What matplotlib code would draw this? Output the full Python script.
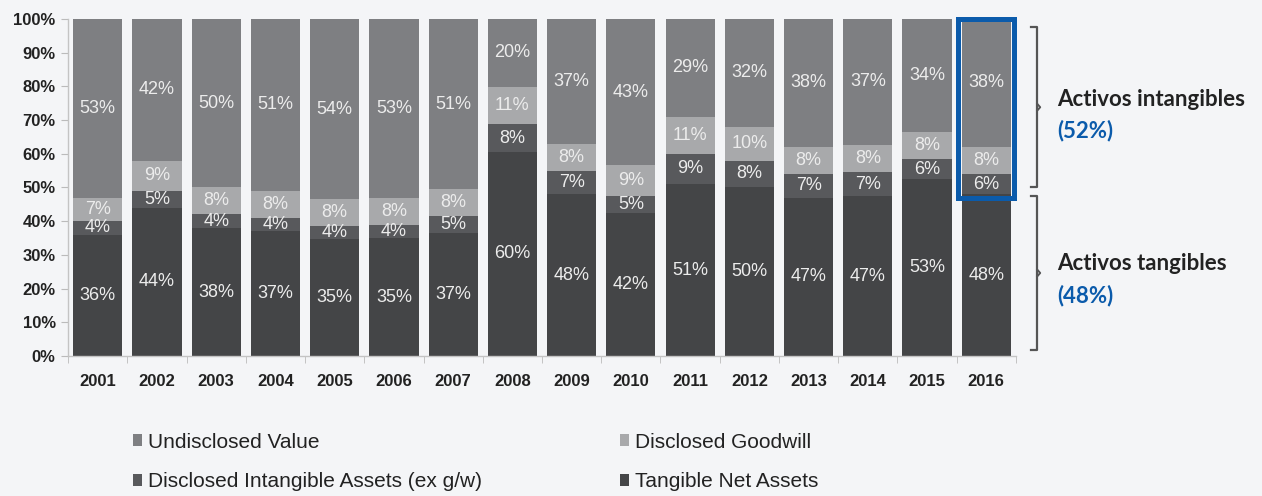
import numpy as np
import matplotlib.pyplot as plt
from matplotlib.patches import Patch, Rectangle

# DATA
years = ['2001', '2002', '2003', '2004', '2005', '2006', '2007', '2008',
         '2009', '2010', '2011', '2012', '2013', '2014', '2015', '2016']
tangible = [36, 44, 38, 37, 35, 35, 37, 60, 48, 42, 51, 50, 47, 47, 53, 48]
intangible = [4, 5, 4, 4, 4, 4, 5, 8, 7, 5, 9, 8, 7, 7, 6, 6]
goodwill = [7, 9, 8, 8, 8, 8, 8, 11, 8, 9, 11, 10, 8, 8, 8, 8]
undisclosed = [53, 42, 50, 51, 54, 53, 51, 20, 37, 43, 29, 32, 38, 37, 34, 38]

series = [
    ('Tangible Net Assets', tangible, '#444547'),
    ('Disclosed Intangible Assets (ex g/w)', intangible, '#58595c'),
    ('Disclosed Goodwill', goodwill, '#a8a9ab'),
    ('Undisclosed Value', undisclosed, '#7e7f82'),
]

bg = '#f4f5f7'
blue = '#0b5bab'

plt.rcParams['font.family'] = ['Liberation Sans', 'DejaVu Sans']

fig = plt.figure(figsize=(12.62, 4.96), dpi=100, facecolor=bg)
ax = fig.add_axes([0.054, 0.282, 0.751, 0.68])
ax.set_facecolor(bg)

x = np.arange(len(years))
totals = np.sum([s[1] for s in series], axis=0)
bottom = np.zeros(len(years))
for name, vals, color in series:
    h = np.array(vals) / totals * 100
    ax.bar(x, h, bottom=bottom, width=0.83, color=color, edgecolor='none')
    for xi, b, hi, v in zip(x, bottom, h, vals):
        ax.text(xi, b + hi / 2, f'{v}%', ha='center', va='center',
                color='#ececec', fontsize=13)
    bottom += h

ax.set_xlim(-0.5, len(years) - 0.5)
ax.set_ylim(0, 100)
ax.set_yticks(np.arange(0, 101, 10))
ax.set_yticklabels([f'{v}%' for v in range(0, 101, 10)], fontsize=12,
                   fontweight='bold', color='#222222')
ax.set_xticks(x)
ax.set_xticklabels(years, fontsize=12, fontweight='bold', color='#222222')
ax.set_xticks(np.arange(-0.5, len(years)), minor=True)
ax.tick_params(axis='x', which='major', length=0, pad=13)
ax.tick_params(axis='x', which='minor', length=5, color='#bbbbbb')
ax.tick_params(axis='y', length=5, color='#bbbbbb', pad=4)
for s in ['top', 'right']:
    ax.spines[s].set_visible(False)
for s in ['left', 'bottom']:
    ax.spines[s].set_color('#c4c4c4')
    ax.spines[s].set_linewidth(1)

# highlight box around the 2016 intangible share
last = len(years) - 1
tang_last = tangible[last] / totals[last] * 100
ax.add_patch(Rectangle((last - 0.47, tang_last - 1), 0.94, 100 - tang_last + 1,
                       fill=False, edgecolor=blue, linewidth=3.6, clip_on=False,
                       zorder=5))

# brackets on the right
bx = last + 0.86
def bracket(y0, y1):
    ax.plot([bx - 0.1, bx, bx, bx - 0.1], [y1, y1, y0, y0], color='#555555',
            lw=1.6, clip_on=False, solid_joinstyle='round')
    ym = (y0 + y1) / 2
    ax.plot([bx, bx + 0.05, bx], [ym + 1, ym, ym - 1], color='#555555',
            lw=1.4, clip_on=False)

bracket(tang_last + 2, 97.6)
bracket(1.8, tang_last - 0.5)

intang_share = 100 - tangible[last]
tx = last + 1.2
lab_font = ['Lato', 'DejaVu Sans']
ax.text(tx, 76, 'Activos intangibles', fontsize=16, fontweight='bold',
        color='#222222', family=lab_font, va='center')
ax.text(tx, 67, f'({intang_share}%)', fontsize=16, fontweight='bold',
        color=blue, family=lab_font, va='center')
ax.text(tx, 27.5, 'Activos tangibles', fontsize=16, fontweight='bold',
        color='#222222', family=lab_font, va='center')
ax.text(tx, 18, f'({tangible[last]}%)', fontsize=16, fontweight='bold',
        color=blue, family=lab_font, va='center')

# legend
lookup = {name: color for name, vals, color in series}
order = ['Undisclosed Value', 'Disclosed Intangible Assets (ex g/w)',
         'Disclosed Goodwill', 'Tangible Net Assets']
handles = [Patch(facecolor=lookup[n], label=n) for n in order]
leg = fig.legend(handles=handles, loc='upper left',
                 bbox_to_anchor=(0.105, 0.128), ncol=2, frameon=False,
                 fontsize=15, handlelength=0.45, handleheight=0.45,
                 handletextpad=0.3, columnspacing=6.6, labelspacing=1.0,
                 borderpad=0, borderaxespad=0)
for t in leg.get_texts():
    t.set_color('#222222')

fig.savefig('out.png', dpi=100, facecolor=bg)
